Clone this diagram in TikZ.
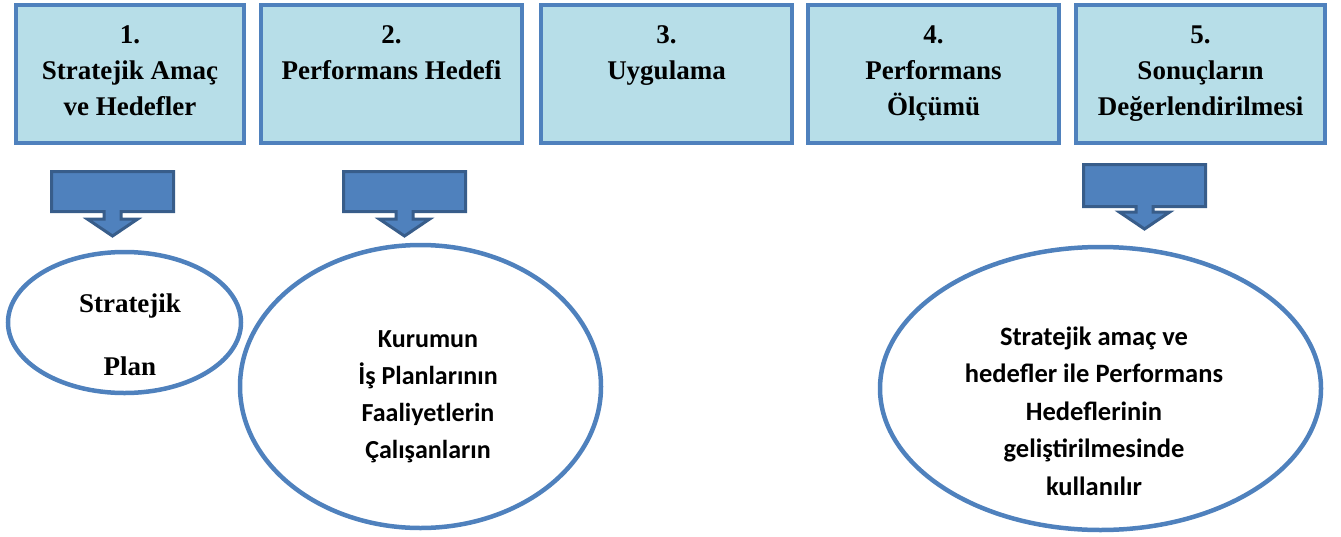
\documentclass[tikz,border=0pt]{standalone}
\usepackage{fontspec}
\setmainfont{Liberation Serif}
\newfontfamily\calibrifont{Carlito}
\usepackage{tikz}
\usetikzlibrary{shapes, arrows.meta}

\definecolor{kutumavi}{HTML}{B7DEE8}
\definecolor{cizgimavi}{HTML}{4F81BD}
\definecolor{koyumavi}{HTML}{385D8A}

\begin{document}
\begin{tikzpicture}[x=1pt, y=-1pt]
            \useasboundingbox (0,0) rectangle (1341,536);

            % ust kutular
            \begin{scope}[every node/.style={rectangle, draw=cizgimavi, fill=kutumavi,
                          line width=4pt, inner sep=0pt, minimum height=138pt}]
                \node[minimum width=228pt] (K1) at (130,74) {};
                \node[minimum width=261pt] (K2) at (391.5,74) {};
                \node[minimum width=251pt] (K3) at (666.5,74) {};
                \node[minimum width=251pt] (K4) at (933.5,74) {};
                \node[minimum width=249pt] (K5) at (1200.5,74) {};
            \end{scope}

            \begin{scope}[every node/.style={align=center, anchor=north, inner sep=0pt,
                          font=\fontsize{27}{36}\selectfont\bfseries}]
                \node (T1) at (130,17.8) {\strut 1.\\Stratejik Amaç\\ve Hedefler};
                \node (T2) at (391.5,17.8) {\strut 2.\\Performans Hedefi};
                \node (T3) at (666.5,17.8) {\strut 3.\\Uygulama};
                \node (T4) at (933.5,17.8) {\strut 4.\\Performans\\Ölçümü};
                \node (T5) at (1200.5,17.8) {\strut 5.\\Sonuçların\\Değerlendirilmesi};
            \end{scope}

            % asagi oklar
            \begin{scope}[every node/.style={arrow box, draw=koyumavi, fill=cizgimavi,
                          line width=3pt, inner sep=0pt, minimum width=122pt,
                          arrow box shaft width=17pt, arrow box head extend=16.5pt,
                          arrow box tip angle=112}]
                \node[minimum height=40pt, arrow box arrows={south:23pt from border}] (O1) at (112.5,191.5) {};
                \node[minimum height=40pt, arrow box arrows={south:23pt from border}] (O2) at (404.5,191.5) {};
                \node[minimum height=42pt, arrow box arrows={south:21pt from border}] (O3) at (1144.5,185.5) {};
            \end{scope}

            % elipsler
            \begin{scope}[every node/.style={ellipse, draw=cizgimavi, line width=4.5pt,
                          inner sep=0pt}]
                \node[minimum width=233pt, minimum height=141pt] (E1) at (124.5,322.5) {};
                \node[minimum width=361pt, minimum height=283pt] (E2) at (420.5,386.5) {};
                \node[minimum width=441pt, minimum height=283pt] (E3) at (1100.5,388.5) {};
            \end{scope}

            \node[align=center, anchor=north, inner sep=0pt,
                  font=\fontsize{27}{63}\selectfont\bfseries] (Y1) at (130,267.9)
                  {\strut Stratejik\\Plan};
            \begin{scope}[every node/.style={align=center, anchor=north, inner sep=0pt}]
                \node[font=\calibrifont\fontsize{26}{37}\selectfont\bfseries] (Y2) at (428,321.1)
                      {\strut Kurumun\\İş Planlarının\\Faaliyetlerin\\Çalışanların};
                \node[font=\calibrifont\fontsize{26.5}{37.5}\selectfont\bfseries] (Y3) at (1094,318.8)
                      {\strut Stratejik amaç ve\\hedefler ile Performans\\Hedeflerinin\\geliştirilmesinde\\kullanılır};
            \end{scope}

            \end{tikzpicture}
\end{document}
